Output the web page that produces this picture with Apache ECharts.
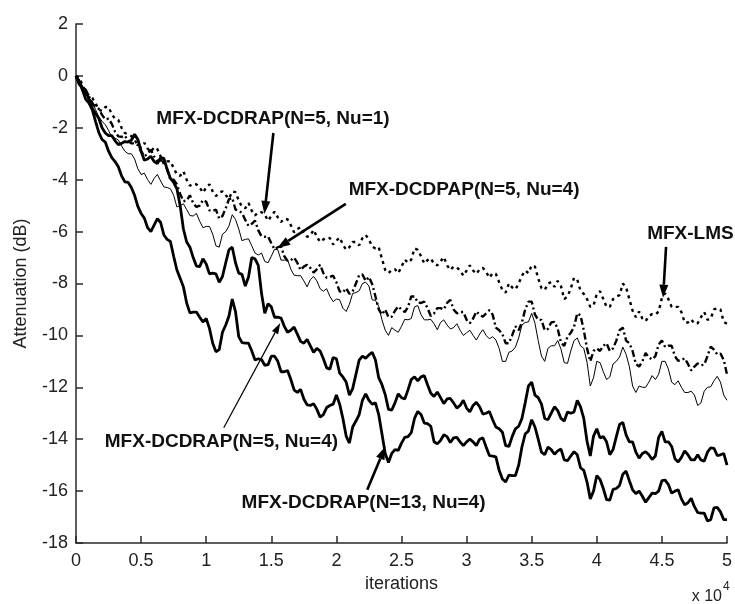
<!DOCTYPE html>
<html>
<head>
<meta charset="utf-8">
<script src="https://cdn.jsdelivr.net/npm/echarts@6/dist/echarts.min.js"></script>
<style>
html,body{margin:0;padding:0;background:#fff;}
#chart{width:735px;height:604px;}
</style>
</head>
<body>
<div id="chart"></div>
<script>
// samples: main values every 500 iterations (0..50000), mid values at 250 + 500*i
const STEP = 500;
const xTickLabels = ['0','0.5','1','1.5','2','2.5','3','3.5','4','4.5','5'];
const yTicks = [2,0,-2,-4,-6,-8,-10,-12,-14,-16,-18];

const lms = [
0,-0.35,-0.75,-1.05,-1.35,-1.2,-1.65,-2.0,-2.25,-2.45,
-2.75,-2.8,-2.75,-3.1,-3.3,-3.55,-3.85,-4.0,-4.15,-4.3,
-4.3,-4.45,-4.5,-4.6,-4.45,-4.8,-5.1,-5.2,-5.25,-5.35,
-5.4,-5.45,-5.5,-5.75,-5.9,-6.05,-6.15,-6.2,-6.3,-6.25,
-6.35,-6.5,-6.6,-6.4,-6.25,-6.3,-6.65,-7.05,-7.6,-7.45,
-7.35,-7.2,-6.65,-6.95,-7.1,-7.25,-7.15,-7.3,-7.35,-7.5,
-7.5,-7.5,-7.45,-7.55,-7.6,-7.95,-8.35,-8.15,-8.0,-7.5,
-7.3,-7.8,-8.25,-7.95,-7.9,-8.6,-8.2,-7.85,-8.4,-8.9,
-8.4,-8.6,-8.9,-8.5,-8.0,-8.6,-9.3,-9.35,-9.25,-9.2,
-8.55,-8.6,-8.9,-9.1,-9.5,-9.55,-9.3,-9.4,-9.0,-9.0,
-9.55];
const lmsMid = [
-0.08,-0.63,-0.85,-1.3,-1.2,-1.48,-1.7,-2.2,-2.32,-2.7,
-2.58,-2.93,-2.83,-3.4,-3.28,-3.8,-3.68,-4.23,-4.18,-4.5,
-4.18,-4.63,-4.45,-4.73,-4.48,-5.05,-4.9,-5.38,-5.25,-5.58,
-5.23,-5.63,-5.53,-6.03,-5.83,-6.2,-5.93,-6.4,-6.23,-6.5,
-6.23,-6.7,-6.4,-6.53,-6.13,-6.58,-6.6,-7.48,-7.48,-7.6,
-7.08,-7.08,-6.7,-7.23,-7.03,-7.3,-6.98,-7.48,-7.38,-7.7,
-7.3,-7.63,-7.4,-7.78,-7.63,-8.25,-8.0,-8.23,-7.7,-7.6,
-7.35,-8.18,-8.0,-8.13,-8.1,-8.5,-7.78,-8.28,-8.6,-8.85,
-8.3,-8.9,-8.6,-8.45,-8.15,-9.05,-9.08,-9.45,-9.18,-9.08,
-8.38,-8.9,-8.9,-9.5,-9.38,-9.53,-9.1,-9.35,-8.95,-9.48];

const dcdrapN5Nu1 = [
0,-0.45,-0.8,-1.2,-1.5,-1.65,-2.15,-2.35,-2.5,-2.6,
-2.9,-3.0,-3.1,-3.25,-3.6,-4.0,-4.55,-4.8,-4.9,-5.0,
-4.85,-5.2,-5.5,-5.1,-4.7,-5.2,-5.55,-5.7,-5.95,-6.2,
-6.45,-6.6,-6.95,-7.1,-7.2,-7.35,-7.4,-7.45,-7.6,-7.75,
-7.95,-8.35,-8.4,-8.0,-7.65,-7.75,-8.5,-9.2,-9.3,-9.05,
-9.0,-8.9,-8.5,-8.75,-8.95,-9.15,-8.95,-8.75,-9.0,-9.1,
-9.4,-9.35,-9.2,-9.15,-9.2,-9.8,-10.3,-10.0,-9.8,-9.0,
-8.7,-9.4,-9.8,-9.5,-9.75,-10.4,-9.9,-9.15,-9.8,-11.0,
-10.5,-10.4,-10.6,-10.2,-9.7,-10.3,-11.1,-11.0,-10.85,-10.8,
-10.2,-10.4,-10.8,-10.95,-11.1,-11.2,-11.15,-10.8,-10.55,-10.7,
-11.5];
const dcdrapN5Nu1Mid = [
-0.3,-0.53,-1.05,-1.27,-1.68,-1.85,-2.33,-2.3,-2.6,-2.67,
-3.1,-2.85,-3.28,-3.28,-4.0,-4.18,-4.83,-4.6,-5.05,-4.78,
-5.18,-5.15,-5.4,-4.75,-5.15,-5.28,-5.78,-5.58,-6.18,-6.18,
-6.68,-6.58,-7.13,-7.0,-7.48,-7.28,-7.58,-7.28,-7.78,-7.7,
-8.3,-8.18,-8.3,-7.68,-7.9,-8.03,-9.0,-9.0,-9.28,-8.88,
-9.1,-8.5,-8.73,-8.7,-9.25,-8.95,-9.0,-8.63,-9.15,-9.1,
-9.53,-9.08,-9.28,-9.03,-9.7,-9.95,-10.3,-9.65,-9.5,-8.7,
-9.2,-9.4,-9.75,-9.48,-10.28,-10.05,-9.68,-9.23,-10.5,-10.6,
-10.6,-10.3,-10.5,-9.8,-10.2,-10.6,-11.2,-10.68,-10.93,-10.35,
-10.45,-10.4,-10.98,-10.88,-11.35,-11.08,-11.13,-10.43,-10.73,-10.95];

const dcdpapN5Nu4 = [
0,-0.4,-0.85,-1.3,-1.75,-2.1,-2.4,-2.7,-3.0,-3.2,
-3.8,-4.0,-3.95,-4.05,-4.3,-4.6,-5.0,-5.15,-5.4,-5.6,
-5.8,-6.1,-6.6,-6.0,-5.35,-5.9,-6.3,-6.55,-6.9,-7.15,
-6.95,-6.7,-7.1,-7.45,-7.7,-7.9,-7.85,-7.9,-8.3,-8.5,
-8.6,-8.95,-8.8,-8.35,-8.0,-8.1,-8.65,-9.4,-10.0,-9.8,
-9.65,-9.4,-8.9,-9.2,-9.4,-9.55,-9.5,-9.6,-9.7,-9.8,
-9.9,-10.0,-9.95,-10.0,-10.05,-10.5,-11.0,-10.6,-10.1,-9.5,
-9.15,-10.2,-11.0,-10.4,-10.2,-11.05,-10.6,-10.1,-10.5,-11.95,
-11.0,-11.4,-11.6,-11.0,-10.45,-11.2,-12.2,-12.0,-11.8,-11.7,
-11.0,-11.3,-11.9,-12.0,-12.2,-12.3,-12.6,-12.0,-11.75,-11.8,
-12.5];
const dcdpapN5Nu4Mid = [
-0.12,-0.73,-0.98,-1.58,-1.88,-2.37,-2.47,-2.9,-3.0,-3.58,
-3.75,-4.18,-3.8,-4.28,-4.35,-5.05,-4.93,-5.38,-5.3,-5.85,
-5.8,-6.55,-6.1,-5.78,-5.53,-6.35,-6.28,-6.83,-6.83,-7.2,
-6.68,-7.1,-7.08,-7.68,-7.7,-8.13,-7.73,-8.2,-8.2,-8.7,
-8.63,-9.08,-8.38,-8.28,-7.95,-8.63,-8.88,-9.8,-9.7,-9.88,
-9.38,-9.35,-8.85,-9.4,-9.38,-9.78,-9.4,-9.75,-9.55,-10.0,
-9.8,-10.18,-9.78,-10.13,-10.18,-11.0,-10.65,-10.45,-9.6,-9.48,
-9.53,-10.8,-10.5,-10.4,-10.53,-11.08,-10.2,-10.4,-11.03,-11.63,
-11.05,-11.7,-11.1,-10.83,-10.73,-11.95,-11.95,-12.0,-11.55,-11.5,
-11.0,-11.8,-11.75,-12.2,-12.15,-12.7,-12.15,-11.98,-11.58,-12.3];

const dcdrapN5Nu4 = [
0,-0.45,-0.9,-1.45,-2.0,-2.3,-2.5,-2.6,-2.55,-2.25,
-2.9,-3.2,-3.3,-3.15,-3.6,-4.1,-5.0,-6.4,-7.0,-7.35,
-7.25,-7.6,-7.95,-7.2,-6.6,-7.6,-8.1,-7.0,-7.3,-9.15,
-8.9,-9.3,-9.65,-9.8,-9.95,-10.3,-10.4,-10.5,-10.9,-11.3,
-10.9,-11.6,-12.3,-11.5,-10.8,-10.75,-10.95,-11.9,-12.85,-12.6,
-12.4,-12.1,-11.6,-11.6,-11.9,-12.35,-12.4,-12.45,-12.6,-12.7,
-12.8,-12.7,-12.75,-13.0,-13.25,-13.6,-14.25,-13.9,-13.5,-12.6,
-11.8,-12.4,-13.2,-13.0,-12.9,-13.3,-13.0,-12.5,-13.2,-14.65,
-13.6,-13.9,-14.6,-13.9,-13.35,-14.1,-14.5,-14.55,-14.6,-14.65,
-13.7,-14.1,-14.75,-14.7,-14.6,-14.8,-14.8,-14.5,-14.35,-14.6,
-15.0];
const dcdrapN5Nu4Mid = [
-0.33,-0.6,-1.25,-1.63,-2.2,-2.3,-2.65,-2.53,-2.48,-2.45,
-3.25,-3.1,-3.38,-3.18,-3.95,-4.35,-5.9,-6.6,-7.33,-7.05,
-7.63,-7.63,-7.73,-6.7,-7.2,-7.65,-7.75,-7.05,-8.38,-8.78,
-9.3,-9.33,-9.88,-9.68,-10.23,-10.15,-10.65,-10.6,-11.25,-10.85,
-11.45,-11.8,-12.05,-10.95,-10.88,-10.65,-11.63,-12.28,-12.88,-12.25,
-12.45,-11.7,-11.75,-11.55,-12.23,-12.18,-12.63,-12.43,-12.8,-12.5,
-12.95,-12.58,-13.03,-12.93,-13.53,-13.73,-14.28,-13.6,-13.2,-11.95,
-12.3,-12.65,-13.25,-12.75,-13.2,-12.95,-12.95,-12.75,-14.08,-13.88,
-13.95,-14.1,-14.4,-13.43,-13.83,-14.1,-14.73,-14.48,-14.78,-13.93,
-14.1,-14.28,-14.88,-14.45,-14.8,-14.6,-14.85,-14.33,-14.63,-14.55];

const dcdrapN13Nu4 = [
0,-0.55,-1.05,-1.75,-2.45,-2.9,-3.3,-3.85,-4.1,-4.6,
-5.3,-5.85,-5.75,-5.65,-6.3,-6.95,-7.8,-8.75,-9.1,-9.3,
-9.35,-10.3,-10.55,-9.6,-8.6,-10.05,-10.3,-10.6,-10.9,-11.15,
-10.8,-11.0,-11.4,-11.7,-12.2,-12.45,-12.7,-12.85,-13.05,-12.7,
-12.3,-13.2,-14.15,-13.3,-12.5,-12.5,-12.6,-13.8,-14.9,-14.4,
-14.15,-13.9,-13.2,-13.05,-13.4,-14.1,-14.05,-13.9,-13.95,-14.1,
-14.1,-14.1,-14.0,-14.3,-14.65,-15.2,-15.65,-15.4,-15.0,-13.8,
-13.25,-14.0,-14.6,-14.4,-14.45,-14.8,-14.65,-14.6,-15.2,-16.3,
-15.4,-15.9,-16.35,-15.9,-15.35,-15.6,-16.1,-16.2,-16.25,-16.1,
-15.6,-15.75,-16.0,-16.3,-16.45,-16.6,-16.85,-17.15,-16.65,-16.8,
-17.1];
const dcdrapN13Nu4Mid = [
-0.23,-0.9,-1.3,-2.18,-2.55,-3.15,-3.5,-4.08,-4.3,-5.03,
-5.48,-6.0,-5.5,-6.13,-6.38,-7.48,-8.13,-9.13,-9.1,-9.48,
-9.73,-10.63,-9.88,-9.25,-9.08,-10.28,-10.3,-10.95,-10.93,-11.13,
-10.8,-11.4,-11.35,-12.1,-12.08,-12.68,-12.63,-13.15,-12.78,-12.65,
-12.65,-13.88,-13.53,-13.05,-12.25,-12.65,-13.05,-14.55,-14.55,-14.43,
-13.93,-13.75,-12.93,-13.38,-13.5,-14.18,-13.83,-14.13,-13.93,-14.25,
-14.0,-14.25,-13.95,-14.63,-14.68,-15.53,-15.38,-15.4,-14.3,-13.68,
-13.53,-14.5,-14.3,-14.58,-14.38,-14.83,-14.48,-15.1,-15.65,-16.0,
-15.55,-16.33,-15.93,-15.78,-15.23,-15.95,-16.0,-16.43,-16.08,-16.0,
-15.58,-16.08,-15.95,-16.53,-16.28,-16.83,-16.85,-17.1,-16.63,-17.1];

// annotations in data coordinates: label anchor (left edge, vertical middle), arrow start, arrow tip
const annotations = [
  {text: 'MFX-DCDRAP(N=5, Nu=1)',  at: [6170, -1.66],  from: [15160, -2.2],  to: [14470, -5.32], thin: false},
  {text: 'MFX-DCDPAP(N=5, Nu=4)',  at: [20940, -4.39], from: [20720, -4.93], to: [15460, -6.63], thin: false},
  {text: 'MFX-LMS',                at: [43870, -6.09], from: [45320, -6.59], to: [45090, -8.55], thin: false},
  {text: 'MFX-DCDRAP(N=5, Nu=4)',  at: [2210, -14.1],  from: [11350, -13.56], to: [15690, -9.52], thin: true},
  {text: 'MFX-DCDRAP(N=13, Nu=4)', at: [12720, -16.45], from: [22370, -15.95], to: [23760, -14.28], thin: false}
];

// interleave main samples and mid samples into [iteration, dB] pairs
function pairs(main, mid) {
  const out = [];
  for (let i = 0; i < main.length; i++) {
    out.push([i * STEP, main[i]]);
    if (i < mid.length) out.push([i * STEP + STEP / 2, mid[i]]);
  }
  return out;
}

const chart = echarts.init(document.getElementById('chart'), null, {renderer: 'canvas'});
const axisFont = 'Liberation Sans';
const option = {
  backgroundColor: '#ffffff',
  animation: false,
  grid: {left: 76, right: 2, top: 24, bottom: 61, containLabel: false},
  xAxis: {
    type: 'value', min: 0, max: 50000, interval: 5000,
    name: 'iterations', nameLocation: 'middle', nameGap: 24,
    nameTextStyle: {fontFamily: axisFont, fontSize: 18, color: '#222'},
    axisLine: {show: true, onZero: false, lineStyle: {color: '#2a2a2a', width: 1.5}},
    axisTick: {show: true, inside: true, length: 7, lineStyle: {color: '#2a2a2a', width: 1.5}},
    axisLabel: {fontFamily: axisFont, fontSize: 18, color: '#222', margin: 9,
      formatter: v => xTickLabels[Math.round(v / 5000)]},
    splitLine: {show: false}
  },
  yAxis: {
    type: 'value', min: -18, max: 2, interval: 2,
    name: 'Attenuation (dB)', nameLocation: 'middle', nameGap: 46,
    nameTextStyle: {fontFamily: axisFont, fontSize: 18, color: '#222'},
    axisLine: {show: true, onZero: false, lineStyle: {color: '#2a2a2a', width: 1.5}},
    axisTick: {show: true, inside: true, length: 7, lineStyle: {color: '#2a2a2a', width: 1.5}},
    axisLabel: {fontFamily: axisFont, fontSize: 18, color: '#222', margin: 8,
      formatter: v => yTicks.indexOf(v) >= 0 ? String(v) : ''},
    splitLine: {show: false}
  },
  series: [
    {name: 'MFX-LMS', type: 'line', data: pairs(lms, lmsMid), showSymbol: false,
     lineStyle: {color: '#000', width: 2.4, type: [3, 4]}},
    {name: 'MFX-DCDRAP(N=5, Nu=1)', type: 'line', data: pairs(dcdrapN5Nu1, dcdrapN5Nu1Mid), showSymbol: false,
     lineStyle: {color: '#000', width: 2.4, type: [7, 3, 2, 3]}},
    {name: 'MFX-DCDPAP(N=5, Nu=4)', type: 'line', data: pairs(dcdpapN5Nu4, dcdpapN5Nu4Mid), showSymbol: false,
     lineStyle: {color: '#000', width: 1}},
    {name: 'MFX-DCDRAP(N=5, Nu=4)', type: 'line', data: pairs(dcdrapN5Nu4, dcdrapN5Nu4Mid), showSymbol: false,
     lineStyle: {color: '#000', width: 2.8}},
    {name: 'MFX-DCDRAP(N=13, Nu=4)', type: 'line', data: pairs(dcdrapN13Nu4, dcdrapN13Nu4Mid), showSymbol: false,
     lineStyle: {color: '#000', width: 2.8}}
  ]
};
chart.setOption(option);

function buildGraphics() {
  const els = [];
  annotations.forEach(a => {
    const p = chart.convertToPixel({gridIndex: 0}, a.at);
    const s = chart.convertToPixel({gridIndex: 0}, a.from);
    const t = chart.convertToPixel({gridIndex: 0}, a.to);
    els.push({type: 'text', z: 100, style: {
      text: a.text, x: p[0], y: p[1], fill: '#111',
      font: 'bold 19px "Liberation Sans", Arial, sans-serif',
      textAlign: 'left', textVerticalAlign: 'middle', align: 'left', verticalAlign: 'middle'}});
    const dx = t[0] - s[0], dy = t[1] - s[1];
    const len = Math.sqrt(dx * dx + dy * dy);
    const ux = dx / len, uy = dy / len;
    const headLen = a.thin ? 11 : 13, headHalf = a.thin ? 3.5 : 4.5;
    const bx = t[0] - ux * headLen, by = t[1] - uy * headLen;
    els.push({type: 'line', z: 100, shape: {x1: s[0], y1: s[1], x2: bx, y2: by},
      style: {stroke: '#000', lineWidth: a.thin ? 1.2 : 2.6}});
    els.push({type: 'polygon', z: 100, shape: {points: [
      [t[0], t[1]],
      [bx - uy * headHalf, by + ux * headHalf],
      [bx + uy * headHalf, by - ux * headHalf]]},
      style: {fill: '#000'}});
  });
  // exponent label under the right end of the x axis
  const xr = chart.convertToPixel({gridIndex: 0}, [50000, -18]);
  els.push({type: 'text', z: 100, style: {text: 'x 10', x: xr[0] - 5, y: xr[1] + 54,
    fill: '#222', font: '16px "Liberation Sans", Arial, sans-serif',
    textAlign: 'right', textVerticalAlign: 'middle', align: 'right', verticalAlign: 'middle'}});
  els.push({type: 'text', z: 100, style: {text: '4', x: xr[0] - 4, y: xr[1] + 44,
    fill: '#222', font: '12px "Liberation Sans", Arial, sans-serif',
    textAlign: 'left', textVerticalAlign: 'middle', align: 'left', verticalAlign: 'middle'}});
  chart.setOption({graphic: {elements: els}});
}
buildGraphics();
</script>
</body>
</html>
